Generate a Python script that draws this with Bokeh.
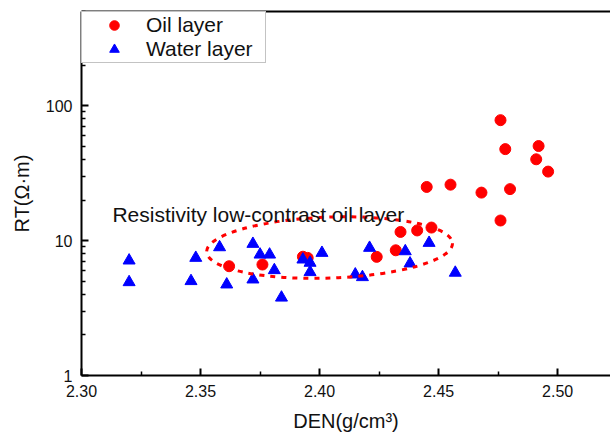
from bokeh.plotting import figure
from bokeh.models import (Range1d, FixedTicker, NumeralTickFormatter, BasicTickFormatter,
                          Label, Legend, LegendItem, LinearAxis)
from bokeh.embed import file_html
from bokeh.resources import INLINE

# ---- data ----
oil_den = [2.476, 2.478, 2.492, 2.491, 2.496, 2.445, 2.455, 2.468, 2.480, 2.476,
           2.447, 2.441, 2.434, 2.432, 2.424, 2.393, 2.395, 2.376, 2.362]
oil_rt = [78.2, 47.7, 50.3, 40.1, 32.5, 25.0, 26.0, 22.7, 24.1, 14.1,
          12.5, 11.9, 11.6, 8.48, 7.58, 7.6, 7.45, 6.65, 6.46]

water_den = [2.320, 2.320, 2.348, 2.346, 2.358, 2.361, 2.372, 2.375, 2.379, 2.372,
             2.381, 2.384, 2.393, 2.396, 2.396, 2.401, 2.415, 2.418, 2.421, 2.436,
             2.438, 2.446, 2.457]
water_rt = [7.12, 4.92, 7.45, 5.01, 8.93, 4.73, 9.46, 7.88, 7.88, 5.15,
            6.04, 3.78, 7.24, 6.85, 5.84, 8.11, 5.61, 5.36, 8.84, 8.34,
            6.77, 9.62, 5.78]

x_ticks = [2.30, 2.35, 2.40, 2.45, 2.50]
x_minor = [2.325, 2.375, 2.425, 2.475, 2.525]
y_ticks = [1, 10, 100]
y_minor = [m * d for d in (1, 10, 100) for m in range(2, 10)]

series_names = ["Oil layer", "Water layer"]
annotation = "Resistivity low-contrast oil layer"

FONT = "Liberation Sans"

p = figure(width=610, height=434, output_backend="svg", toolbar_location=None,
           y_axis_type="log",
           x_range=Range1d(2.30, 2.5222), y_range=Range1d(1, 500),
           min_border_left=81, min_border_right=0, min_border_top=11, min_border_bottom=57)
p.xgrid.visible = False
p.ygrid.visible = False
p.outline_line_color = None
p.background_fill_color = "white"
p.border_fill_color = "white"

# top border line only (no right border visible in the reference)
top = LinearAxis(ticker=FixedTicker(ticks=[], minor_ticks=[]),
                 axis_line_width=2, axis_line_color="black",
                 major_tick_in=0, major_tick_out=0, minor_tick_in=0, minor_tick_out=0,
                 major_label_standoff=0)
p.add_layout(top, "above")

# axes
xa = p.below[0]
ya = p.left[0]
xa.ticker = FixedTicker(ticks=x_ticks, minor_ticks=x_minor)
xa.formatter = NumeralTickFormatter(format="0.00")
ya.ticker = FixedTicker(ticks=y_ticks, minor_ticks=y_minor)
ya.formatter = BasicTickFormatter()
xa.axis_label = "DEN(g/cm³)"
ya.axis_label = "RT(Ω·m)"
for ax in (xa, ya):
    ax.axis_line_width = 2
    ax.axis_line_color = "black"
    ax.major_tick_in = 7
    ax.major_tick_out = 0
    ax.minor_tick_in = 4
    ax.minor_tick_out = 0
    ax.major_tick_line_width = 2
    ax.minor_tick_line_width = 1.5
    ax.major_tick_line_color = "black"
    ax.minor_tick_line_color = "black"
    ax.major_label_text_font = FONT
    ax.major_label_text_font_size = "16px"
    ax.major_label_text_color = "#111111"
    ax.axis_label_text_font = FONT
    ax.axis_label_text_font_size = "20px"
    ax.axis_label_text_font_style = "normal"
    ax.axis_label_text_color = "#111111"
    ax.major_label_standoff = 9
    ax.axis_label_standoff = 10

oil = p.scatter(oil_den, oil_rt, marker="circle", size=11,
                fill_color="#FF0000", line_color="#FF0000")
water = p.scatter(water_den, water_rt, marker="triangle", size=12,
                  fill_color="#0000FF", line_color="#0000FF")

# dotted ellipse around the low-contrast zone
p.ellipse(x=[2.4042], y=[8.88], width=[246], height=[61], angle=[0.035],
          width_units="screen", height_units="screen",
          fill_alpha=0, line_color="#FF0000", line_width=3, line_dash="5 6")

p.add_layout(Label(x=2.313, y=15.6, text=annotation, text_font=FONT,
                   text_font_size="21px", text_color="#111111",
                   text_baseline="alphabetic"))

legend = Legend(items=[LegendItem(label=series_names[0], renderers=[oil]),
                       LegendItem(label=series_names[1], renderers=[water])],
                location="top_left", margin=0, padding=1, spacing=0,
                glyph_width=62, glyph_height=24, label_height=24, label_width=118,
                label_standoff=1, label_text_font=FONT, label_text_font_size="21px",
                label_text_color="#111111",
                border_line_color="#888888", border_line_width=1,
                background_fill_color="white", background_fill_alpha=1)
p.add_layout(legend)

open("out.html", "w").write(file_html(p, INLINE))
